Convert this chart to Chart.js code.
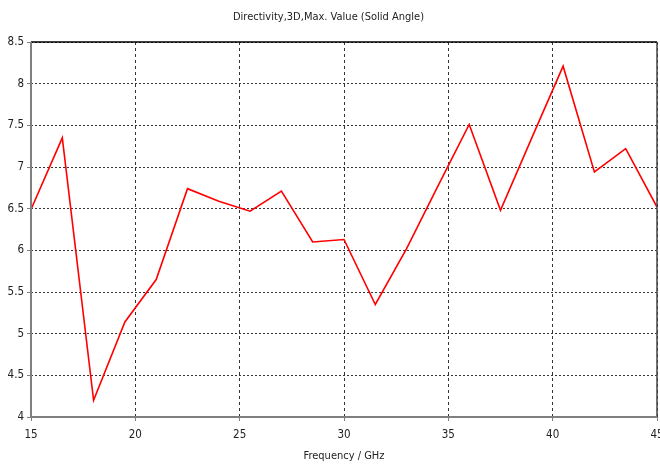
<!DOCTYPE html>
<html>
<head>
<meta charset="utf-8">
<script src="https://cdn.jsdelivr.net/npm/chart.js@4.4.0/dist/chart.umd.min.js"></script>
<style>
  html, body { margin: 0; padding: 0; background: #fff; }
  #wrap { width: 660px; height: 465px; }
</style>
</head>
<body>
<div id="wrap"><canvas id="chart" width="660" height="465"></canvas></div>
<script>
// frequency samples (GHz) and directivity values
const frequencies = [15, 16.5, 18, 19.5, 21, 22.5, 24, 25.5, 27, 28.5, 30, 31.5, 33, 34.5, 36, 37.5, 39, 40.5, 42, 43.5, 45];
const directivity = [6.49, 7.35, 4.2, 5.14, 5.65, 6.74, 6.59, 6.47, 6.71, 6.1, 6.13, 5.35, 6.02, 6.77, 7.51, 6.48, 7.35, 8.21, 6.94, 7.22, 6.52];
const xTicks = [15, 20, 25, 30, 35, 40, 45];
const yTicks = [4, 4.5, 5, 5.5, 6, 6.5, 7, 7.5, 8, 8.5];

const FONT = "'DejaVu Sans Condensed', 'Liberation Sans', sans-serif";

// solid frame round the plot area: black top, dark right, grey left/bottom
const framePlugin = {
    id: "frame",
    afterDraw(chart) {
        const {ctx, chartArea: a} = chart;
        ctx.save();
        ctx.setLineDash([]);
        ctx.lineWidth = 1.5;
        ctx.strokeStyle = "#000";
        ctx.beginPath();
        ctx.moveTo(a.left, a.top);
        ctx.lineTo(a.right, a.top);
        ctx.stroke();
        ctx.strokeStyle = "#444";
        ctx.beginPath();
        ctx.moveTo(a.right, a.top);
        ctx.lineTo(a.right, a.bottom);
        ctx.stroke();
        ctx.strokeStyle = "#7f7f7f";
        ctx.lineWidth = 2;
        ctx.beginPath();
        ctx.moveTo(a.left, a.top);
        ctx.lineTo(a.left, a.bottom);
        ctx.lineTo(a.right, a.bottom);
        ctx.stroke();
        ctx.restore();
    },
};

new Chart(document.getElementById("chart"), {
    type: "line",
    data: {
        datasets: [{
            data: frequencies.map((f, i) => ({x: f, y: directivity[i]})),
            borderColor: "#ff0000",
            borderWidth: 1.6,
            pointRadius: 0,
            tension: 0,
            fill: false,
        }],
    },
    options: {
        responsive: false,
        animation: false,
        devicePixelRatio: 1,
        layout: {padding: {left: 0, right: 3, top: 0, bottom: 0}},
        plugins: {
            legend: {display: false},
            tooltip: {enabled: false},
            title: {
                display: true,
                text: "Directivity,3D,Max. Value (Solid Angle)",
                color: "#222",
                font: {family: FONT, size: 11, weight: "normal"},
                padding: {top: 11, bottom: 17.8},
            },
        },
        scales: {
            x: {
                type: "linear",
                min: 15,
                max: 45,
                afterBuildTicks: (scale) => {
                    scale.ticks = xTicks.map((v) => ({value: v}));
                },
                afterFit: (scale) => {
                    scale.height = 48;
                    scale.paddingLeft = 0;
                    scale.paddingRight = 0;
                },
                ticks: {
                    color: "#222",
                    font: {family: FONT, size: 11.5},
                    padding: 7,
                    maxRotation: 0,
                    autoSkip: false,
                    callback: (v) => String(v),
                },
                grid: {
                    color: "#333",
                    lineWidth: 1,
                    tickLength: 4,
                    tickColor: "#7f7f7f",
                },
                border: {display: false, dash: [3, 3]},
                title: {
                    display: true,
                    text: "Frequency / GHz",
                    color: "#222",
                    font: {family: FONT, size: 11},
                    padding: {top: 0, bottom: 2},
                },
            },
            y: {
                min: 4,
                max: 8.5,
                afterBuildTicks: (scale) => {
                    scale.ticks = yTicks.map((v) => ({value: v}));
                },
                afterFit: (scale) => {
                    scale.width = 31;
                    scale.paddingTop = 0;
                    scale.paddingBottom = 0;
                },
                ticks: {
                    color: "#222",
                    font: {family: FONT, size: 11.5},
                    padding: 3,
                    autoSkip: false,
                    callback: (v) => String(v),
                },
                grid: {
                    color: "#333",
                    lineWidth: 1,
                    tickLength: 4,
                    tickColor: "#7f7f7f",
                },
                border: {display: false, dash: [2, 2]},
            },
        },
    },
    plugins: [framePlugin],
});
</script>
</body>
</html>
